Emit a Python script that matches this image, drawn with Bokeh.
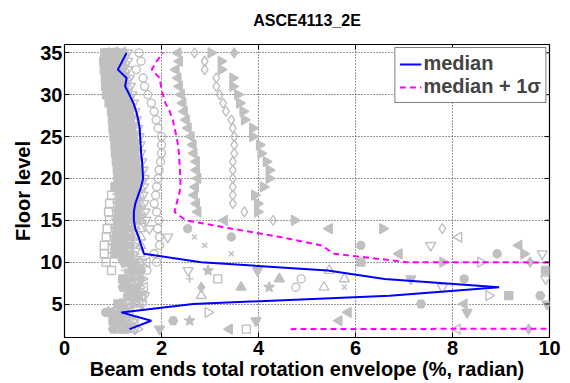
import numpy as np
from bokeh.plotting import figure
from bokeh.models import Range1d, FixedTicker, Legend, LegendItem
from bokeh.embed import file_html
from bokeh.resources import INLINE

floors = [2, 3, 4, 5, 6, 7, 8, 9, 10, 11, 12, 13, 14, 15, 16, 17, 18,
          19, 20, 21, 22, 23, 24, 25, 26, 27, 28, 29, 30, 31, 32, 33, 34, 35]

median = [1.34, 1.79, 1.17, 2.65, 6.70, 8.96, 6.60, 5.43, 2.82, 1.64, 1.58, 1.53,
          1.46, 1.43, 1.43, 1.46, 1.52, 1.58, 1.62, 1.61, 1.60, 1.58, 1.57, 1.56,
          1.55, 1.52, 1.48, 1.42, 1.34, 1.25, 1.28, 1.10, 1.19, 1.28]

median_plus_sigma = [4.66, 100, 100, 100, 100, 100, 100, 100, 7.07, 5.56, 5.30, 4.45,
                     3.45, 2.50, 2.27, 2.31, 2.36, 2.39, 2.39, 2.38, 2.37, 2.36, 2.34,
                     2.31, 2.27, 2.23, 2.17, 2.08, 2.03, 1.99, 1.96, 1.80, 1.90, 2.03]

# individual ground-motion records (floor 2 .. 35)
rec_sq_filled = [1.20, 1.00, 0.95, 1.10, 9.16, 1.30, 1.20, 9.92, 6.11,
                 1.05, 1.06, 1.07, 1.09, 1.11, 1.12, 1.14, 1.14,
                 1.04, 1.10, 1.09, 1.07, 1.05, 1.04, 1.02, 1.00, 0.99, 0.97, 0.92, 0.87, 0.85, 0.84, 0.82, 0.81, 0.83]
rec_sq_open = [3.75, 1.20, 1.05, 1.30, 1.50, 1.25, 3.16, 0.97, 0.86,
               0.82, 0.82, 0.86, 0.88, 0.93, 0.91, 0.93, 0.97,
               1.12, 1.17, 1.16, 1.14, 1.12, 1.11, 1.09, 1.07, 1.05, 1.03, 0.99, 0.94, 0.92, 0.91, 0.88, 0.89, 0.90]
rec_ci_open = [1.20, 1.40, 1.25, 1.30, 1.60, 4.77, 4.88, 1.70, 1.90,
               1.85, 1.96, 1.96, 1.92, 1.95, 1.90, 1.85, 1.88,
               1.90, 1.93, 1.95, 1.98, 2.00, 2.00, 2.00, 1.93, 1.89, 1.85, 1.79, 1.72, 1.65, 1.62, 1.48, 1.58, 1.54]
rec_ci_filled = [1.05, 1.15, 0.85, 1.20, 1.30, 1.37, 8.24, 1.58, 1.45,
                 8.92, 6.11, 3.44, 2.54, 1.50, 1.49, 1.49, 1.48,
                 1.50, 1.51, 1.50, 1.47, 1.45, 1.44, 1.42, 1.39, 1.36, 1.34, 1.31, 1.27, 1.24, 1.23, 1.19, 1.19, 1.19]
rec_tri_left = [3.40, 5.66, 5.85, 8.24, 15, 15, 15, 15, 15,
                6.90, 9.37, 15, 5.46, 3.30, 2.75, 2.72, 2.68,
                2.70, 2.75, 2.72, 2.72, 2.67, 2.65, 2.61, 2.55, 2.51, 2.47, 2.44, 2.41, 2.37, 2.34, 2.30, 2.37, 2.34]
rec_tri_right = [15, 15, 15, 15, 15, 15, 15, 15, 7.80,
                 9.47, 15, 15, 6.56, 4.74, 3.98, 3.98, 3.92,
                 4.10, 4.22, 4.22, 4.16, 4.05, 4.02, 3.88, 3.88, 3.71, 3.68, 3.61, 3.57, 3.47, 3.47, 3.23, 3.23, 3.02]
rec_di_open = [15, 15, 15, 15, 15, 15, 15, 15, 15,
               15, 15, 15, 7.79, 4.30, 3.71, 3.47, 3.47,
               3.47, 3.47, 3.47, 3.47, 3.50, 3.50, 3.50, 3.47, 3.44, 3.33, 3.27, 3.20, 3.13, 3.13, 2.89, 2.89, 2.68]
rec_di_filled = [9.57, 1.20, 1.00, 1.40, 1.50, 2.82, 1.58, 1.45, 9.60,
                 1.38, 1.38, 1.39, 1.40, 1.41, 1.41, 1.41, 1.40,
                 1.43, 1.45, 1.44, 1.41, 1.39, 1.38, 1.36, 1.33, 1.31, 1.28, 1.25, 1.21, 1.18, 1.17, 1.13, 1.13, 3.50]
rec_tri_up_filled = [1.30, 1.10, 0.90, 1.20, 1.50, 3.64, 4.43, 1.35, 1.30,
                     1.29, 1.29, 1.30, 1.31, 1.33, 1.33, 1.33, 1.32,
                     1.36, 1.39, 1.38, 1.35, 1.33, 1.32, 1.30, 1.28, 1.25, 1.23, 1.19, 1.15, 1.12, 1.11, 1.08, 1.07, 1.08]
rec_tri_up_open = [1.40, 1.30, 1.20, 1.50, 2.82, 5.35, 5.77, 5.46, 1.55,
                   1.56, 1.57, 1.57, 1.57, 1.58, 1.57, 1.56, 1.55,
                   1.56, 1.58, 1.56, 1.53, 1.51, 1.50, 1.48, 1.45, 1.42, 1.39, 1.36, 1.33, 1.30, 1.28, 1.24, 1.24, 1.24]
rec_tri_dn_filled = [1.96, 3.95, 8.30, 9.95, 1.40, 1.50, 7.14, 3.98, 1.20,
                     1.15, 1.15, 1.17, 1.18, 1.20, 1.20, 1.21, 1.21,
                     1.26, 1.30, 1.28, 1.26, 1.24, 1.23, 1.21, 1.19, 1.17, 1.14, 1.10, 1.06, 1.04, 1.02, 0.99, 0.99, 1.00]
rec_tri_dn_open = [1.45, 1.35, 1.25, 1.60, 1.65, 7.79, 9.92, 2.55, 1.60,
                   9.85, 7.55, 2.13, 1.75, 1.68, 1.66, 1.64, 1.62,
                   1.63, 1.64, 1.62, 1.59, 1.57, 1.56, 1.54, 1.51, 1.48, 1.45, 1.42, 1.39, 1.36, 1.34, 1.30, 1.30, 1.30]
rec_star = [1.25, 2.58, 1.10, 1.15, 1.55, 4.22, 1.40, 2.96, 1.35,
            1.01, 1.01, 1.03, 1.05, 1.07, 1.08, 1.10, 1.10,
            1.16, 1.20, 1.19, 1.17, 1.15, 1.14, 1.12, 1.10, 1.08, 1.06, 1.02, 0.97, 0.95, 0.94, 0.91, 0.91, 0.92]
rec_hexagram = [1.00, 2.24, 1.15, 7.35, 9.81, 1.20, 1.30, 1.40, 1.25,
                1.19, 1.20, 1.21, 1.22, 1.24, 1.24, 1.25, 1.25,
                1.29, 1.33, 1.31, 1.29, 1.27, 1.26, 1.24, 1.22, 1.19, 1.17, 1.13, 1.09, 1.07, 1.05, 1.02, 1.02, 1.03]
rec_x = [1.10, 1.25, 1.00, 1.35, 1.45, 5.77, 1.50, 1.35, 1.40,
         3.44, 2.89, 2.68, 1.36, 1.37, 1.37, 1.37, 1.36,
         1.39, 1.42, 1.41, 1.38, 1.36, 1.35, 1.33, 1.30, 1.28, 1.25, 1.22, 1.18, 1.15, 1.14, 1.10, 1.10, 1.11]
rec_plus = [1.15, 1.05, 1.30, 1.25, 1.30, 1.45, 2.58, 1.25, 1.50,
            1.24, 1.24, 1.25, 1.27, 1.28, 1.28, 1.29, 1.29,
            1.33, 1.36, 1.34, 1.32, 1.30, 1.29, 1.27, 1.25, 1.22, 1.20, 1.16, 1.12, 1.10, 1.08, 1.05, 1.05, 1.06]
rec_tri_right_open = [1.50, 1.40, 2.96, 1.45, 8.75, 1.55, 1.60, 1.50, 8.58,
                      1.42, 1.43, 1.44, 1.44, 1.45, 1.45, 1.45, 1.44,
                      1.46, 1.48, 1.47, 1.44, 1.42, 1.41, 1.39, 1.36, 1.33, 1.31, 1.28, 1.24, 1.21, 1.20, 1.16, 1.16, 1.16]
rec_tri_left_open = [8.10, 1.45, 1.35, 1.55, 1.60, 1.65, 1.55, 1.45, 1.70,
                     1.10, 1.11, 8.13, 1.13, 1.16, 1.16, 1.17, 1.17,
                     1.22, 1.27, 1.25, 1.23, 1.21, 1.20, 1.18, 1.16, 1.14, 1.12, 1.07, 1.03, 1.01, 0.99, 0.97, 0.97, 0.97]

x_ticks = [0, 2, 4, 6, 8, 10]
y_ticks = [5, 10, 15, 20, 25, 30, 35]

X_MIN, X_MAX = 0, 10
Y_MIN, Y_MAX = 1, 36

GRAY = "#c0c0c0"
FONT = "Liberation Sans"

p = figure(width=570, height=383, x_range=Range1d(X_MIN, X_MAX), y_range=Range1d(Y_MIN, Y_MAX),
           output_backend="svg", toolbar_location=None,
           min_border_left=64, min_border_right=21, min_border_top=44, min_border_bottom=46)
p.background_fill_color = "white"
p.border_fill_color = "white"
p.outline_line_color = "black"
p.outline_line_width = 1.2

# (data, marker, filled, angle, size)
records = [
    (rec_sq_filled, "square", True, 0, 8),
    (rec_sq_open, "square", False, 0, 8),
    (rec_ci_open, "circle", False, 0, 8),
    (rec_ci_filled, "circle", True, 0, 8),
    (rec_tri_left, "triangle", True, np.pi / 2, 10),
    (rec_tri_right, "triangle", True, -np.pi / 2, 10),
    (rec_di_open, "diamond", False, 0, 10),
    (rec_di_filled, "diamond", True, 0, 10),
    (rec_tri_up_filled, "triangle", True, 0, 10),
    (rec_tri_up_open, "triangle", False, 0, 10),
    (rec_tri_dn_filled, "inverted_triangle", True, 0, 10),
    (rec_tri_dn_open, "inverted_triangle", False, 0, 10),
    (rec_star, "star", True, 0, 11),
    (rec_hexagram, "hex", True, 0, 9),
    (rec_x, "x", False, 0, 7),
    (rec_plus, "cross", False, 0, 8),
    (rec_tri_right_open, "triangle", False, -np.pi / 2, 10),
    (rec_tri_left_open, "triangle", False, np.pi / 2, 10),
]
for vals, mk, filled, ang, sz in records:
    p.scatter(vals, floors, marker=mk, size=sz, angle=ang,
              fill_color=GRAY if filled else None, line_color=GRAY,
              line_width=1.4)

r_med = p.line(median, floors, line_color="#0000ff", line_width=2)
r_sig = p.line(median_plus_sigma, floors, line_color="#ff00ff", line_width=2, line_dash="6 4")

# inward tick marks on the top and right edges of the box
p.segment(x0=x_ticks, y0=[Y_MAX] * len(x_ticks), x1=x_ticks, y1=[Y_MAX - 0.6] * len(x_ticks),
          line_color="black", line_width=1)
p.segment(x0=[X_MAX] * len(y_ticks), y0=y_ticks, x1=[X_MAX - 0.1] * len(y_ticks), y1=y_ticks,
          line_color="black", line_width=1)

# axes
for ax in (p.xaxis[0], p.yaxis[0]):
    ax.major_tick_in = 5
    ax.major_tick_out = 0
    ax.minor_tick_line_color = None
    ax.axis_line_color = "black"
    ax.major_label_text_font = FONT
    ax.major_label_text_font_style = "bold"
    ax.major_label_text_font_size = "20px"
    ax.major_label_text_color = "black"
    ax.axis_label_text_font = FONT
    ax.axis_label_text_font_style = "bold"
    ax.axis_label_text_font_size = "20px"
    ax.axis_label_text_color = "black"
p.xaxis[0].ticker = FixedTicker(ticks=x_ticks)
p.yaxis[0].ticker = FixedTicker(ticks=y_ticks)
p.xaxis[0].axis_label = "Beam ends total rotation envelope (%, radian)"
p.yaxis[0].axis_label = "Floor level"
p.xaxis[0].major_label_standoff = 3
p.xaxis[0].axis_label_standoff = 0
p.yaxis[0].major_label_standoff = 2
p.yaxis[0].axis_label_standoff = 3

p.xgrid.ticker = FixedTicker(ticks=x_ticks)
p.ygrid.ticker = FixedTicker(ticks=y_ticks)
for g in (p.xgrid[0], p.ygrid[0]):
    g.grid_line_color = "#333333"
    g.grid_line_dash = "1 2"
    g.grid_line_width = 1

# trailing empty line lifts the title away from the frame, as in the reference
p.title.text = "ASCE4113_2E\n"
p.title.text_line_height = 0.6
p.title.align = "center"
p.title.text_font = FONT
p.title.text_font_style = "bold"
p.title.text_font_size = "16px"
p.title.text_color = "black"

legend = Legend(items=[LegendItem(label="median", renderers=[r_med]),
                       LegendItem(label="median + 1σ", renderers=[r_sig])],
                location="top_right")
legend.label_text_font = FONT
legend.label_text_font_style = "bold"
legend.label_text_font_size = "20px"
legend.glyph_width = 22
legend.label_standoff = 2
legend.spacing = 0
legend.padding = 4
legend.margin = 3
legend.border_line_color = "black"
legend.border_line_width = 1.2
legend.background_fill_alpha = 1
p.add_layout(legend)

open("out.html", "w").write(file_html(p, INLINE))
